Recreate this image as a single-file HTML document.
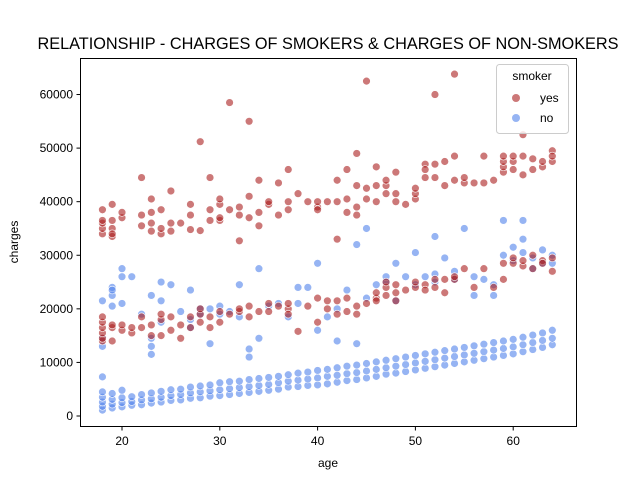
<!DOCTYPE html>
<html><head><meta charset="utf-8"><style>
body{margin:0;background:#fff;}
svg{display:block;font-family:"Liberation Sans","DejaVu Sans",sans-serif;}
</style></head><body>
<svg id="chart" width="640" height="480" viewBox="0 0 640 480">
<text x="328" y="49" text-anchor="middle" font-size="16.3">RELATIONSHIP - CHARGES OF SMOKERS &amp; CHARGES OF NON-SMOKERS</text>
<g id="marks"></g>
<rect x="80.5" y="58.5" width="496" height="368" fill="none" stroke="#000" stroke-width="1"/>
<g id="axes" font-size="12"></g>
<text x="328" y="467" text-anchor="middle" font-size="12">age</text>
<text transform="translate(18,242) rotate(-90)" text-anchor="middle" font-size="12">charges</text>
<g>
<rect x="496.5" y="64.5" width="72" height="69" rx="3" fill="#fff" fill-opacity="0.8" stroke="#ccc"/>
<text x="532" y="80" text-anchor="middle" font-size="12">smoker</text>
<circle cx="516" cy="98" r="4" fill="rgba(170,30,30,0.6)"/>
<text x="540" y="102" font-size="12">yes</text>
<circle cx="516" cy="118" r="4" fill="rgba(80,130,235,0.6)"/>
<text x="540" y="122" font-size="12">no</text>
</g>
</svg>
<script>
const xTicks=[20,30,40,50,60];
const yTicks=[0,10000,20000,30000,40000,50000,60000];
// non-smoker main band: [age, charges in thousands]
const nsBand=[[18,1.1],[18,1.8],[18,2.6],[18,3.5],[18,4.5],[19,1.5],[19,2.2],[19,3.1],[19,4.2],[20,1.7],[20,2.5],[20,3.4],[20,4.8],[21,2.0],[21,2.7],[21,3.6],[22,2.1],[22,3.0],[22,4.0],[23,2.4],[23,3.2],[23,4.3],[24,2.6],[24,3.5],[24,4.6],[25,2.9],[25,3.8],[25,4.9],[26,3.0],[26,4.0],[26,5.0],[27,3.3],[27,4.3],[27,5.4],[28,3.4],[28,4.5],[28,5.6],[29,3.7],[29,4.7],[29,5.8],[30,3.8],[30,4.9],[30,6.2],[31,4.0],[31,5.1],[31,6.4],[32,4.2],[32,5.3],[32,6.5],[33,4.4],[33,5.5],[33,6.8],[34,4.6],[34,5.7],[34,7.0],[35,4.8],[35,5.9],[35,7.2],[36,5.0],[36,6.2],[36,7.4],[37,5.4],[37,6.5],[37,7.7],[38,5.5],[38,6.7],[38,8.0],[39,5.7],[39,6.9],[39,8.2],[40,5.8],[40,7.1],[40,8.5],[41,6.0],[41,7.4],[41,8.7],[42,6.3],[42,7.6],[42,9.0],[43,6.6],[43,7.9],[43,9.3],[44,6.8],[44,8.1],[44,9.5],[45,7.1],[45,8.4],[45,9.8],[46,7.4],[46,8.7],[46,10.1],[47,7.8],[47,9.0],[47,10.4],[48,8.0],[48,9.3],[48,10.7],[49,8.3],[49,9.6],[49,11.0],[50,8.6],[50,9.9],[50,11.3],[51,8.9],[51,10.2],[51,11.6],[52,9.2],[52,10.5],[52,11.9],[53,9.5],[53,10.8],[53,12.2],[54,9.8],[54,11.1],[54,12.5],[55,10.1],[55,11.4],[55,12.8],[56,10.4],[56,11.7],[56,13.1],[57,10.7],[57,12.0],[57,13.4],[58,11.0],[58,12.3],[58,13.7],[59,11.3],[59,12.6],[59,14.0],[60,11.6],[60,12.9],[60,14.3],[61,12.0],[61,13.3],[61,14.7],[62,12.4],[62,13.7],[62,15.1],[63,12.8],[63,14.1],[63,15.5],[64,13.3],[64,14.5],[64,16.0]];
// non-smoker outliers
const nsOut=[[18,21.5],[18,7.3],[18,13],[18,14.5],[19,22.5],[19,24],[19,20.5],[19,23.5],[20,27.5],[20,26],[20,21],[21,26],[22,19],[23,22.5],[23,13],[23,11.5],[23,14.5],[24,25],[24,17.5],[24,21.5],[25,24.5],[26,19.5],[27,18],[27,16.5],[27,23.5],[28,20],[28,19],[29,20],[29,13.5],[30,19],[30,20.5],[31,19.5],[32,24.5],[32,18.5],[33,12.5],[33,11],[34,27.5],[34,14.5],[35,20.5],[36,21],[37,18.5],[38,24],[38,21],[39,24],[40,28.5],[40,16],[41,18.5],[42,14],[42,20],[43,23.5],[44,32],[44,13.5],[45,35],[45,22],[46,24.5],[47,25],[47,26],[48,28.5],[48,21.5],[49,26],[50,30.5],[50,24.5],[51,26],[52,33.5],[52,25],[52,26.5],[53,29.5],[54,27],[54,25.5],[55,35],[56,26],[56,22.5],[57,25.5],[58,22.5],[58,24.5],[59,36.5],[59,30],[60,29],[60,31.5],[61,30.5],[61,36.5],[61,33],[62,29.5],[62,27.5],[63,28.5],[63,31],[64,30],[64,28.5]];
// smokers, lower band
const sLow=[[18,14],[18,14.5],[18,15.5],[18,16.5],[18,17.5],[18,18.5],[19,14],[19,16.5],[19,17],[20,16],[20,17],[21,15.5],[21,16.5],[22,18.5],[22,16.5],[23,17],[23,15],[24,18],[24,15],[24,19],[25,18.5],[25,16],[26,14.5],[26,17],[27,16.5],[27,18.5],[28,17.5],[28,19],[28,20],[29,16.5],[29,18.5],[30,17.5],[30,19.5],[31,19],[32,19.5],[32,20],[33,18.5],[33,20.5],[34,19.5],[35,19.5],[35,21],[36,20.5],[37,20],[37,19],[37,21],[38,15.8],[39,20.5],[40,17.5],[40,22],[41,21.5],[41,20],[42,19],[42,21.5],[43,19.5],[43,22],[44,19],[44,20.5],[45,21],[46,22],[46,23],[46,21.5],[47,22.5],[47,24],[47,25],[48,23],[48,24.5],[48,21.5],[49,23.5],[50,24],[50,25],[51,24.5],[51,23.5],[52,24],[52,25.5],[53,25.5],[53,23],[54,25.5],[54,26],[55,27.5],[56,24],[57,27.5],[58,24],[59,25.5],[59,28.5],[60,28.5],[60,29.5],[61,28],[61,29],[62,27.5],[62,30],[63,29],[63,28.5],[64,27],[64,29.5]];
// smokers, upper band
const sHigh=[[18,34],[18,35],[18,36],[18,38.5],[18,36.5],[19,33.5],[19,35],[19,36.5],[19,39.5],[19,34],[20,37],[20,38],[22,35.5],[22,37.5],[22,44.5],[23,34.5],[23,36],[23,40.5],[23,38],[24,34],[24,35],[24,38.5],[25,34.5],[25,36],[25,42],[26,36],[27,34.8],[27,37.5],[27,39.5],[28,34.6],[28,51.2],[29,36.5],[29,38.5],[29,44.5],[30,36.5],[30,37],[30,39.5],[30,40.5],[31,38.5],[31,58.5],[32,37.5],[32,32.7],[32,39],[33,37],[33,41],[33,55],[34,38],[34,35.5],[34,44],[35,39.5],[35,40],[36,37.5],[36,43.5],[37,38.5],[37,40],[37,46],[38,41.5],[39,40],[40,39],[40,40],[40,38.5],[41,40],[42,33],[42,40],[42,44],[43,38],[43,40.5],[43,46],[44,37.5],[44,43],[44,49],[44,39],[45,42.5],[45,62.5],[45,40.5],[46,43],[46,46.5],[46,40],[47,41.5],[47,43],[47,44],[48,40],[48,41.5],[48,45.5],[49,39.5],[50,40.5],[50,41.5],[50,42.5],[51,44.5],[51,47],[51,46],[52,44.5],[52,47],[52,60],[53,43],[53,47.5],[54,44],[54,48.5],[54,63.8],[55,43.5],[55,44.5],[56,43.5],[57,43.5],[57,48.5],[58,44],[59,45.5],[59,46.5],[59,47.5],[59,48.5],[60,46],[60,47.5],[60,48.5],[61,45],[61,48.5],[61,52.5],[62,46],[62,48],[63,46.5],[63,47.5],[64,47.5],[64,49.5],[64,48.5]];

const NS='http://www.w3.org/2000/svg';
function sx(a){return 122+(a-20)*9.78;}
function sy(v){return 416-v*0.005358;}
const axes=document.getElementById('axes');
xTicks.forEach(t=>{
  const l=document.createElementNS(NS,'line');
  l.setAttribute('x1',sx(t));l.setAttribute('x2',sx(t));l.setAttribute('y1',426.5);l.setAttribute('y2',430.5);l.setAttribute('stroke','#000');
  
  
  axes.appendChild(l);
  const tx=document.createElementNS(NS,'text');
  tx.setAttribute('x',sx(t));tx.setAttribute('y',445);tx.setAttribute('text-anchor','middle');tx.textContent=t;
  
  
  axes.appendChild(tx);
});
yTicks.forEach(t=>{
  const l=document.createElementNS(NS,'line');
  l.setAttribute('x1',76.5);l.setAttribute('x2',80.5);l.setAttribute('y1',sy(t));l.setAttribute('y2',sy(t));l.setAttribute('stroke','#000');
  
  
  axes.appendChild(l);
  const tx=document.createElementNS(NS,'text');
  tx.setAttribute('x',73);tx.setAttribute('y',sy(t)+4);tx.setAttribute('text-anchor','end');tx.textContent=t;
  
  
  axes.appendChild(tx);
});
const marks=document.getElementById('marks');
function draw(arr,color,name){
  arr.forEach(p=>{
    const c=document.createElementNS(NS,'circle');
    c.setAttribute('cx',sx(p[0]));c.setAttribute('cy',sy(p[1]*1000));c.setAttribute('r',3.9);
    c.setAttribute('fill',color);c.setAttribute('stroke','#fff');c.setAttribute('stroke-width','0.6');
    
    
    marks.appendChild(c);
  });
}
draw(sHigh,'rgba(170,30,30,0.6)','point-smoker');
draw(nsOut,'rgba(80,130,235,0.6)','point-non-smoker');
draw(sLow,'rgba(170,30,30,0.6)','point-smoker');
draw(nsBand,'rgba(80,130,235,0.6)','point-non-smoker');
</script>
</body></html>
